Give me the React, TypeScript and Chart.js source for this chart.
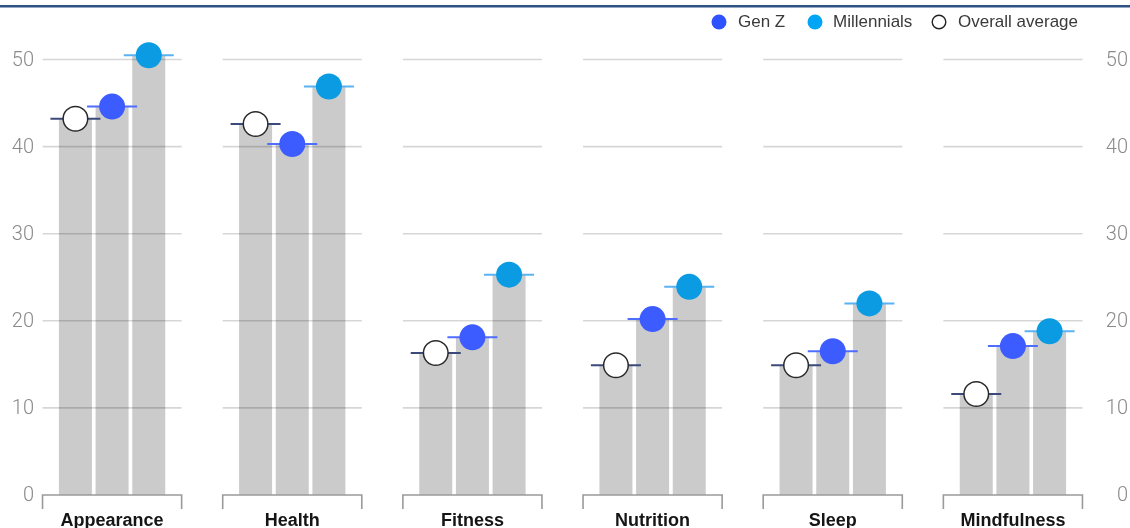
import { useEffect, useRef } from "react";
import { Chart, registerables } from "chart.js";

Chart.register(...registerables);

// Wellness categories and the share (%) reported by each group
const categories = ["Appearance", "Health", "Fitness", "Nutrition", "Sleep", "Mindfulness"];
const overallAverage = [43.2, 42.6, 16.3, 14.9, 14.9, 11.6];
const genZ = [44.6, 40.3, 18.1, 20.2, 16.5, 17.1];
const millennials = [50.5, 46.9, 25.3, 23.9, 22.0, 18.8];
const yTicks = [0, 10, 20, 30, 40, 50];

const legendItems = [
  { label: "Gen Z", kind: "genz" },
  { label: "Millennials", kind: "mill" },
  { label: "Overall average", kind: "avg" },
];

// Styling
const BAR_COLOR = "#cbcbcb";
const GENZ_COLOR = "#3d5cff";
const MILL_COLOR = "#0a9be3";
const AVG_DASH = "#3b4a7a";
const GENZ_DASH = "#4f6dff";
const MILL_DASH = "#5ab2f2";
const SLOT = 0.2035; // spacing of the three bars inside a category, in category units
const PANEL = 0.386; // half width of a panel's gridlines, in category units

function drawGrid(chart: any) {
  const { ctx } = chart;
  const x = chart.scales.x;
  const y = chart.scales.y;
  const half = (x.getPixelForValue(1) - x.getPixelForValue(0)) * PANEL;
  ctx.save();
  ctx.strokeStyle = "rgba(0,0,0,0.16)";
  ctx.lineWidth = 1.6;
  categories.forEach((_, i) => {
    const xc = x.getPixelForValue(i);
    yTicks.forEach((t) => {
      if (t === 0) return;
      const py = y.getPixelForValue(t);
      ctx.beginPath();
      ctx.moveTo(xc - half, py);
      ctx.lineTo(xc + half, py);
      ctx.stroke();
    });
  });
  ctx.restore();
}

const panelPlugin = {
  id: "panels",
  beforeDraw(chart: any) {
    const { ctx, width, height } = chart;
    ctx.save();
    ctx.fillStyle = "#ffffff";
    ctx.fillRect(0, 0, width, height);
    ctx.fillStyle = "#2d5283";
    ctx.fillRect(0, 5, width, 2.5);
    ctx.restore();
  },
  beforeDatasetsDraw(chart: any) {
    chart.$gridDone = false;
  },
  beforeDatasetDraw(chart: any, args: any) {
    if (args.meta.type !== "scatter" || chart.$gridDone) return;
    chart.$gridDone = true;
    drawGrid(chart);
  },
  afterDraw(chart: any) {
    const { ctx } = chart;
    const x = chart.scales.x;
    const y = chart.scales.y;
    const half = (x.getPixelForValue(1) - x.getPixelForValue(0)) * PANEL;
    const base = y.getPixelForValue(0);
    ctx.save();

    // baseline brackets under each panel
    ctx.strokeStyle = "#9a9a9a";
    ctx.lineWidth = 1.6;
    categories.forEach((_, i) => {
      const xc = x.getPixelForValue(i);
      ctx.beginPath();
      ctx.moveTo(xc - half, base + 14);
      ctx.lineTo(xc - half, base);
      ctx.lineTo(xc + half, base);
      ctx.lineTo(xc + half, base + 14);
      ctx.stroke();
    });

    // value axis labels on both sides
    ctx.font = "300 20px Roboto";
    ctx.fillStyle = "#8a8a8a";
    ctx.textAlign = "right";
    ctx.textBaseline = "middle";
    yTicks.forEach((t) => {
      const py = y.getPixelForValue(t) + 1;
      ctx.fillText(String(t), 34, py);
      ctx.fillText(String(t), 1128, py);
    });

    // category names
    ctx.font = "bold 18px 'Liberation Sans'";
    ctx.fillStyle = "#151515";
    ctx.textAlign = "center";
    ctx.textBaseline = "alphabetic";
    categories.forEach((c, i) => {
      ctx.fillText(c, x.getPixelForValue(i), 526);
    });

    // legend
    const dots = [719, 815, 939];
    const texts = [738, 833, 958];
    const ly = 22;
    ctx.font = "17px 'Liberation Sans'";
    ctx.textAlign = "left";
    ctx.textBaseline = "middle";
    legendItems.forEach((item, k) => {
      ctx.beginPath();
      if (item.kind === "avg") {
        ctx.arc(dots[k], ly, 6.8, 0, Math.PI * 2);
        ctx.fillStyle = "#ffffff";
        ctx.fill();
        ctx.strokeStyle = "#222";
        ctx.lineWidth = 1.4;
        ctx.stroke();
      } else {
        ctx.arc(dots[k], ly, 7.5, 0, Math.PI * 2);
        ctx.fillStyle = item.kind === "genz" ? "#2f52ff" : "#00a6f5";
        ctx.fill();
      }
      ctx.fillStyle = "#3a3a3a";
      ctx.fillText(item.label, texts[k], ly);
    });
    ctx.restore();
  },
};

// Places each value at its category index plus the bar's slot within the group
function pointsAt(values: number[], shift: number) {
  return values.map((v, i) => ({ x: i + shift, y: v }));
}

export default function App() {
  const canvasRef = useRef<HTMLCanvasElement | null>(null);

  useEffect(() => {
    const canvas = canvasRef.current;
    if (!canvas) return;

    const bars = (label: string, values: number[], shift: number) => ({
      type: "bar" as const,
      label,
      data: pointsAt(values, shift),
      backgroundColor: BAR_COLOR,
      borderWidth: 0,
      grouped: false,
      categoryPercentage: 1,
      barPercentage: 0.9,
      order: 3,
    });

    const dash = (label: string, values: number[], shift: number, color: string) => ({
      type: "scatter" as const,
      label,
      data: pointsAt(values, shift),
      pointStyle: "line",
      pointRadius: 25,
      pointBorderWidth: 2,
      pointBorderColor: color,
      borderColor: color,
      order: 2,
    });

    const marker = (
      label: string,
      values: number[],
      shift: number,
      fill: string,
      stroke: string,
      width: number,
      radius: number
    ) => ({
      type: "scatter" as const,
      label,
      data: pointsAt(values, shift),
      pointStyle: "circle",
      pointRadius: radius,
      pointBackgroundColor: fill,
      pointBorderColor: stroke,
      pointBorderWidth: width,
      order: 1,
    });

    const chart = new Chart(canvas, {
      type: "bar",
      data: {
        datasets: [
          bars("Overall average", overallAverage, -SLOT),
          bars("Gen Z", genZ, 0),
          bars("Millennials", millennials, SLOT),
          dash("Overall average level", overallAverage, -SLOT, AVG_DASH),
          dash("Gen Z level", genZ, 0, GENZ_DASH),
          dash("Millennials level", millennials, SLOT, MILL_DASH),
          marker("Overall average", overallAverage, -SLOT, "#ffffff", "#2a2a2a", 1.5, 12.3),
          marker("Gen Z", genZ, 0, GENZ_COLOR, GENZ_COLOR, 0, 13),
          marker("Millennials", millennials, SLOT, MILL_COLOR, MILL_COLOR, 0, 13),
        ] as any,
      },
      options: {
        responsive: false,
        animation: false,
        events: [],
        layout: { autoPadding: false, padding: { left: 22, right: 27, top: 16, bottom: 33 } },
        plugins: {
          legend: { display: false },
          tooltip: { enabled: false },
        },
        scales: {
          x: {
            type: "linear",
            display: false,
            min: -0.5,
            max: 5.5,
            offset: false,
            grid: { offset: false },
          },
          y: { type: "linear", display: false, min: 0, max: 55 },
        },
      } as any,
      plugins: [panelPlugin],
    });

    return () => chart.destroy();
  }, []);

  return (
    <div style={{ position: "absolute", left: 0, top: 0, width: 1130, height: 528 }}>
      <canvas ref={canvasRef} width={1130} height={528} style={{ display: "block" }} />
    </div>
  );
}
